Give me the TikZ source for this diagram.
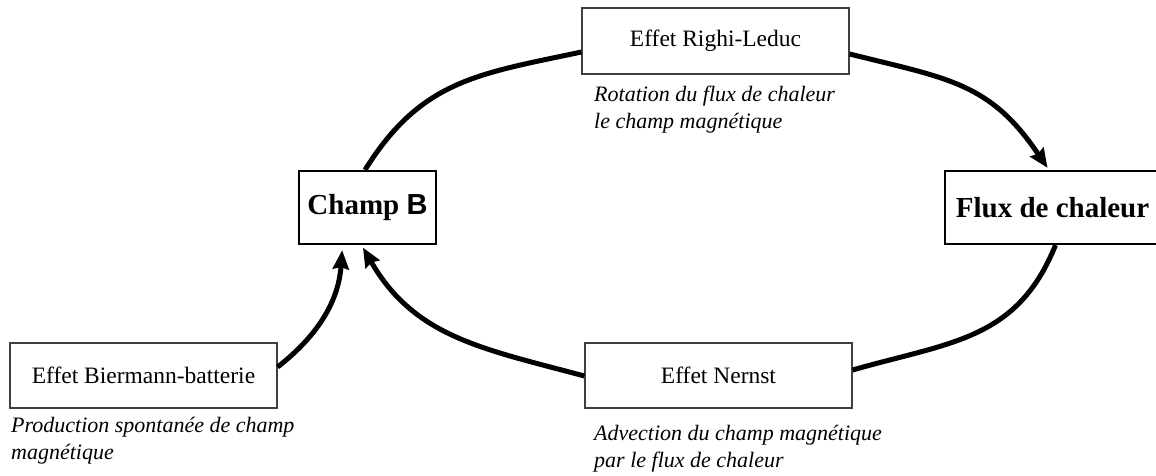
\documentclass[tikz,border=0pt]{standalone}
\usepackage{fontspec}
\setmainfont{Liberation Serif}
\newfontfamily\arialf{Liberation Sans}
\usetikzlibrary{arrows.meta}
\begin{document}
\begin{tikzpicture}[x=1pt,y=1pt,
  effbox/.style={draw=black!75, line width=1.2pt, minimum width=267pt, minimum height=65pt, inner sep=0pt, font=\fontsize{23.5}{28}\selectfont},
  mainbox/.style={draw=black, line width=2.2pt, minimum height=73pt, inner sep=0pt, font=\fontsize{29}{34}\selectfont\bfseries},
  note/.style={anchor=north west, inner sep=0pt, align=left, font=\fontsize{22}{27}\selectfont\itshape},
  link/.style={line width=5pt},
  tip/.style={-{Stealth[length=19pt,width=16pt,inset=2pt]}}]
\useasboundingbox (0,0) rectangle (1156,-475);
\clip (0,0) rectangle (1156,-475);
\node[effbox, minimum height=66pt] (righi) at (715.5,-41) {Effet Righi-Leduc};
\node[mainbox, minimum width=137pt] (champ) at (367.5,-207.5) {Champ {\arialf\bfseries B}};
\node[mainbox, minimum width=215pt] (flux) at (1052.5,-207.5) {Flux de chaleur};
\node[effbox] (bier) at (143.5,-375.5) {Effet Biermann-batterie};
\node[effbox] (nernst) at (718.5,-375.5) {Effet Nernst};
\node[note] (rotlab) at (594,-86) {Rotation du flux de chaleur\\le champ magnétique};
\node[note] (prodlab) at (11,-417) {Production spontanée de champ\\magnétique};
\node[note] (advlab) at (594,-425) {Advection du champ magnétique\\par le flux de chaleur};
\draw[link] ([xshift=-2.5pt]champ.north) to[out=58, in=192, looseness=1.1] ([yshift=-11pt]righi.west);
\draw[link, tip] ([yshift=-13pt]righi.east) to[out=-14, in=124, looseness=1.15] ([xshift=-5pt,yshift=2pt]flux.north);
\draw[link] ([xshift=3pt]flux.south) to[out=-112, in=16, looseness=1.1] ([yshift=5.5pt]nernst.east);
\draw[link, tip, shorten >=3pt] ([yshift=-0.5pt]nernst.west) to[out=165, in=-60, looseness=1.05] ([xshift=-6pt]champ.south);
\draw[link, tip, shorten >=5pt] ([yshift=8.5pt]bier.east) to[out=38, in=-94] ([xshift=-25pt]champ.south);
\end{tikzpicture}
\end{document}
